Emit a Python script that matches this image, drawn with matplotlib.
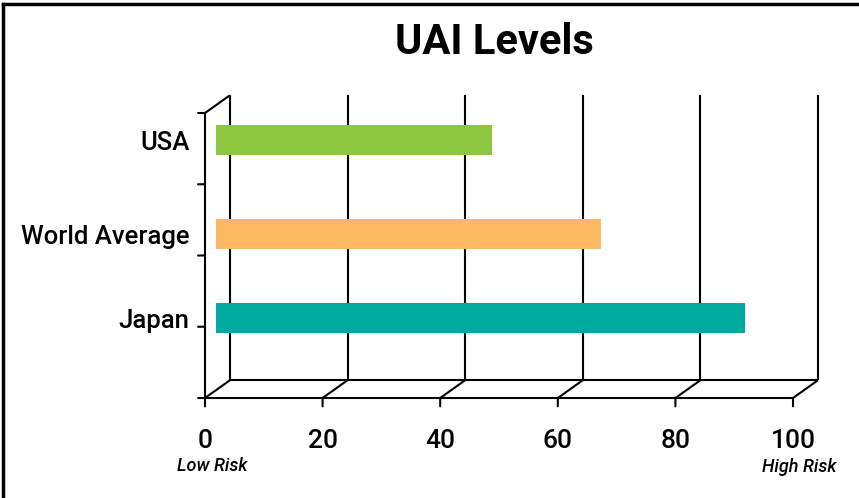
import matplotlib.pyplot as plt
from matplotlib.lines import Line2D

# UAI scores, bottom to top
countries = ['Japan', 'World Average', 'USA']
uai = [90, 65.5, 47]
bar_colors = ['#00A99D', '#FDBA63', '#8DC63F']
bar_pos = [1.01, 2.19, 3.51]
xticks = [0, 20, 40, 60, 80, 100]

# depth of the fake 3d box, in data units
dx, dy = 4.25, 0.25
depth = 0.44          # bars sit a bit in front of the middle of the box
ntick = 4

FONT = 'Roboto'

W, H = 859, 498
fig = plt.figure(figsize=(W / 100, H / 100), dpi=100)
ax = fig.add_axes([205 / W, (H - 398) / H, 613 / W, 302.8 / H])
ax.set_xlim(0, 100 + dx)
ax.set_ylim(0, ntick + dy)
ax.axis('off')

lw = 1.5
kw = dict(color='black', lw=lw, clip_on=False, solid_capstyle='butt')

# back wall gridlines and floor
for v in xticks:
    ax.plot([v + dx, v + dx], [dy, ntick + dy], **kw)
    ax.plot([v, v + dx], [0, dy], **kw)
ax.plot([dx, 100 + dx], [dy, dy], **kw)
ax.plot([0, 100], [0, 0], **kw)

# front left axis with its top edge
ax.plot([0, 0], [0, ntick], **kw)
ax.plot([0, dx], [ntick, ntick + dy], **kw)

# ticks
for v in xticks:
    ax.annotate('', xy=(v, 0), xytext=(0, -6), textcoords='offset points',
                arrowprops=dict(arrowstyle='-', lw=lw, shrinkA=0, shrinkB=0))
    ax.annotate(str(v), xy=(v, 0), xytext=(0, -31), textcoords='offset points',
                ha='center', va='center', fontsize=19, family=FONT,
                fontweight='medium')
for k in range(ntick + 1):
    ax.annotate('', xy=(0, k), xytext=(-5, 0), textcoords='offset points',
                arrowprops=dict(arrowstyle='-', lw=lw, shrinkA=0, shrinkB=0))

# bars
ax.barh([p + depth * dy for p in bar_pos], uai, left=depth * dx, height=0.42,
        color=bar_colors, zorder=3, clip_on=False)

for name, p in zip(countries, bar_pos):
    ax.annotate(name, xy=(0, p + depth * dy), xytext=(-11, -2),
                textcoords='offset points', ha='right', va='center',
                fontsize=18.5, family=FONT, fontweight='medium')

ax.annotate('Low Risk', xy=(1.2, 0), xytext=(0, -49), textcoords='offset points',
            ha='center', va='center', fontsize=13, style='italic',
            family=FONT, fontweight='medium')
ax.annotate('High Risk', xy=(101, 0), xytext=(0, -50), textcoords='offset points',
            ha='center', va='center', fontsize=13, style='italic',
            family=FONT, fontweight='medium')

fig.text(494 / W, 1 - 43 / H, 'UAI Levels', ha='center', va='center',
         fontsize=30, family=FONT, fontweight='bold')

# frame on top and left edge
fig.add_artist(Line2D([3 / W, 1], [1 - 4 / H, 1 - 4 / H], color='black', lw=2.5))
fig.add_artist(Line2D([3 / W, 3 / W], [0, 1 - 4 / H], color='black', lw=2.5))

fig.savefig('out.png', dpi=100)
